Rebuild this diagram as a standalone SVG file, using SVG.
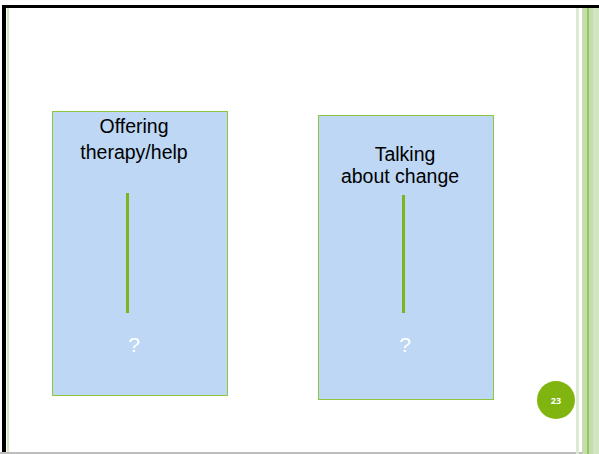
<svg xmlns="http://www.w3.org/2000/svg" width="599" height="454" viewBox="0 0 599 454">
  <style>
    .box { fill: #BDD7F4; stroke: #8DC63F; stroke-width: 1; }
    .title { font-family: "Liberation Sans", Arial, sans-serif; font-size: 19.5px; fill: #000; text-anchor: middle; }
    .q { font-family: "Liberation Sans", Arial, sans-serif; font-size: 21px; fill: #FFFFFF; text-anchor: middle; }
    .bar { stroke: #7AB51D; stroke-width: 3; }
  </style>
  <rect width="599" height="454" fill="#FFFFFF"/>

  <!-- slide frame -->
  <g id="frame">
    <rect x="2" y="5" width="597" height="3" fill="#000"/>
    <rect x="2" y="5" width="4" height="449" fill="#000"/>
    <rect x="7" y="8" width="2" height="446" fill="#D3E8C3"/>
    <rect x="0" y="452" width="599" height="2" fill="#BDBDBD"/>
    <!-- right-hand stripes -->
    <rect x="576" y="8" width="3" height="446" fill="#DCEBD0"/>
    <rect x="582" y="8" width="5" height="446" fill="#C3DDAE"/>
    <rect x="587" y="8" width="2" height="446" fill="#98C558"/>
    <rect x="589" y="8" width="4" height="446" fill="#C3DDAE"/>
    <rect x="593" y="8" width="6" height="446" fill="#D0E5C0"/>
  </g>

  <g id="node-offering">
    <rect class="box" x="52.5" y="111.5" width="175" height="284"/>
    <text class="title" x="134" y="133">Offering</text>
    <text class="title" x="134" y="158.5">therapy/help</text>
    <text class="q" x="134" y="352">?</text>
  </g>

  <g id="node-talking">
    <rect class="box" x="318.5" y="115.5" width="175" height="284"/>
    <text class="title" x="405" y="161">Talking</text>
    <text class="title" x="400" y="183">about change</text>
    <text class="q" x="405" y="352">?</text>
  </g>

  <g id="connectors">
    <line class="bar" x1="127.5" y1="193" x2="127.5" y2="313"/>
    <line class="bar" x1="403.5" y1="195" x2="403.5" y2="313"/>
  </g>

  <g id="page-number">
    <circle cx="556" cy="400" r="19" fill="#80B50F"/>
    <text x="556" y="403.5" font-family="'Open Sans', 'Liberation Sans', sans-serif" font-size="9" font-weight="bold" fill="#FFFFFF" text-anchor="middle">23</text>
  </g>
</svg>
